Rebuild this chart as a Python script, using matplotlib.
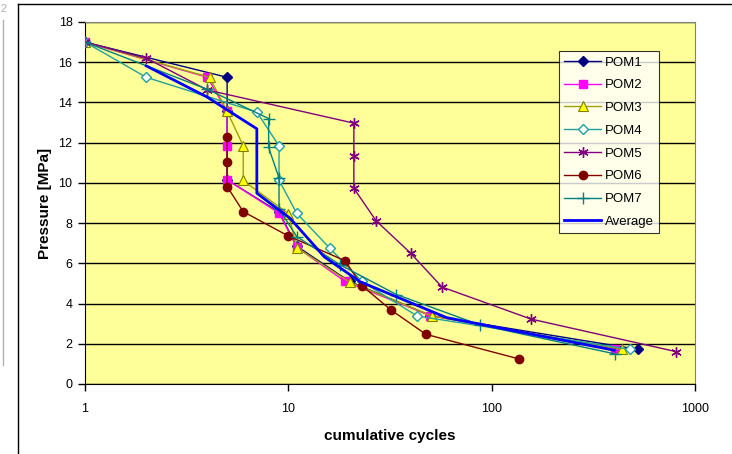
import matplotlib
matplotlib.use("Agg")
import matplotlib.pyplot as plt
from matplotlib.lines import Line2D

plt.rcParams['font.family'] = ['Liberation Sans', 'DejaVu Sans']

# data (cycles, pressure in MPa)
pom1_x = [1, 5, 5, 5, 9, 11, 20, 50, 526]
pom1_y = [17, 15.25, 13.55, 10.15, 8.55, 6.85, 5.1, 3.4, 1.72]
pom2_x = [1, 4.0, 5, 5, 5, 9, 11, 19, 50, 406]
pom2_y = [17, 15.25, 13.55, 11.85, 10.15, 8.5, 6.8, 5.1, 3.4, 1.74]
pom3_x = [1, 4.1, 5, 6, 6, 10, 11, 20, 51, 436]
pom3_y = [17, 15.25, 13.55, 11.85, 10.12, 8.47, 6.78, 5.07, 3.38, 1.72]
pom4_x = [1, 2, 7, 9, 9, 11, 16, 23, 43, 481]
pom4_y = [17, 15.25, 13.52, 11.84, 10.13, 8.49, 6.75, 5.1, 3.38, 1.72]
pom5_x = [1, 2, 4.0, 21, 21, 21, 27, 40, 57, 156, 807]
pom5_y = [17, 16.2, 14.62, 12.97, 11.36, 9.73, 8.12, 6.5, 4.82, 3.23, 1.61]
pom6_x = [5, 5, 5, 6, 10, 19, 23, 32, 47.5, 137]
pom6_y = [12.27, 11.03, 9.82, 8.57, 7.36, 6.13, 4.89, 3.68, 2.47, 1.24]
pom7_x = [1, 4.0, 8, 8, 9, 9, 11, 18, 34, 88, 403]
pom7_y = [17, 14.65, 13.2, 11.76, 10.24, 8.7, 7.33, 5.92, 4.45, 2.93, 1.5]
avg_x = [2, 4, 5, 7, 7, 9, 10.2, 15, 22.5, 60, 400]
avg_y = [15.82, 14.26, 13.63, 12.69, 9.49, 8.65, 8.24, 6.33, 5.09, 3.3, 1.68]

fig = plt.figure(figsize=(7.32, 4.54), dpi=100)
ax = fig.add_axes([85/732, 1-384/454, 610/732, 362/454])
ax.set_facecolor('#FFFF99')

ms = 5.5
ax.plot(pom1_x, pom1_y, color='#000080', lw=1, marker='D', ms=ms-0.5,
        mfc='#000080', mec='#000080', label='POM1', zorder=3)
ax.plot(pom2_x, pom2_y, color='#FF00FF', lw=1, marker='s', ms=ms+0.5,
        mfc='#FF00FF', mec='#FF00FF', label='POM2', zorder=3)
ax.plot(pom3_x, pom3_y, color='#A0A000', lw=1, marker='^', ms=ms+1,
        mfc='#FFFF00', mec='#808000', mew=0.8, label='POM3', zorder=3)
ax.plot(pom4_x, pom4_y, color='#20A0A0', lw=1, marker='D', ms=ms-0.5,
        mfc='white', mec='#20A0A0', mew=1, label='POM4', zorder=3)
ax.plot(pom5_x, pom5_y, color='#800080', lw=1, marker=(6, 2, 0), ms=ms+2,
        mec='#800080', mew=1, label='POM5', zorder=3)
ax.plot(pom6_x, pom6_y, color='#800000', lw=1, marker='o', ms=ms+0.5,
        mfc='#800000', mec='#800000', label='POM6', zorder=3)
ax.plot(pom7_x, pom7_y, color='#008080', lw=1, marker='+', ms=ms+3,
        mec='#008080', mew=1, label='POM7', zorder=3)
ax.plot(avg_x, avg_y, color='#0000FF', lw=2, label='Average', zorder=4)

ax.set_xscale('log')
ax.set_xlim(1, 1000)
ax.set_ylim(0, 18)
ax.set_yticks(range(0, 19, 2))
ax.set_xticks([1, 10, 100, 1000])
ax.set_xticklabels(['1', '10', '100', '1000'])
ax.minorticks_off()
ax.yaxis.grid(True, color='black', lw=1)
ax.set_axisbelow(True)
ax.tick_params(direction='out', length=5, width=1, labelsize=9, pad=4)
ax.tick_params(axis='x', pad=9)

for s in ['top', 'right']:
    ax.spines[s].set_color('#808080')
for s in ['left', 'bottom']:
    ax.spines[s].set_color('black')

ax.set_xlabel('cumulative cycles', fontsize=11, fontweight='bold', labelpad=10)
ax.set_ylabel('Pressure [MPa]', fontsize=11, fontweight='bold', labelpad=5)

leg = ax.legend(loc='upper left', bbox_to_anchor=(474/610, 1-29/362),
                fontsize=9.5, frameon=True, fancybox=False, borderpad=0.4,
                labelspacing=0.8, handlelength=2.8, handletextpad=0.3,
                borderaxespad=0)
leg.get_frame().set_edgecolor('black')
leg.get_frame().set_linewidth(0.8)

# chart area border and page remnants
fig.add_artist(Line2D([18/732, 18/732], [0, 1-4/454], color='black', lw=1))
fig.add_artist(Line2D([18/732, 1], [1-4/454, 1-4/454], color='black', lw=1))
fig.add_artist(Line2D([3/732, 3/732], [1-365/454, 1-20/454], color='#B0B0B0', lw=1))
fig.text(0.0, 1-12/454, '2', fontsize=8, color='#B0B0B0')

fig.savefig('out.png', dpi=100)
